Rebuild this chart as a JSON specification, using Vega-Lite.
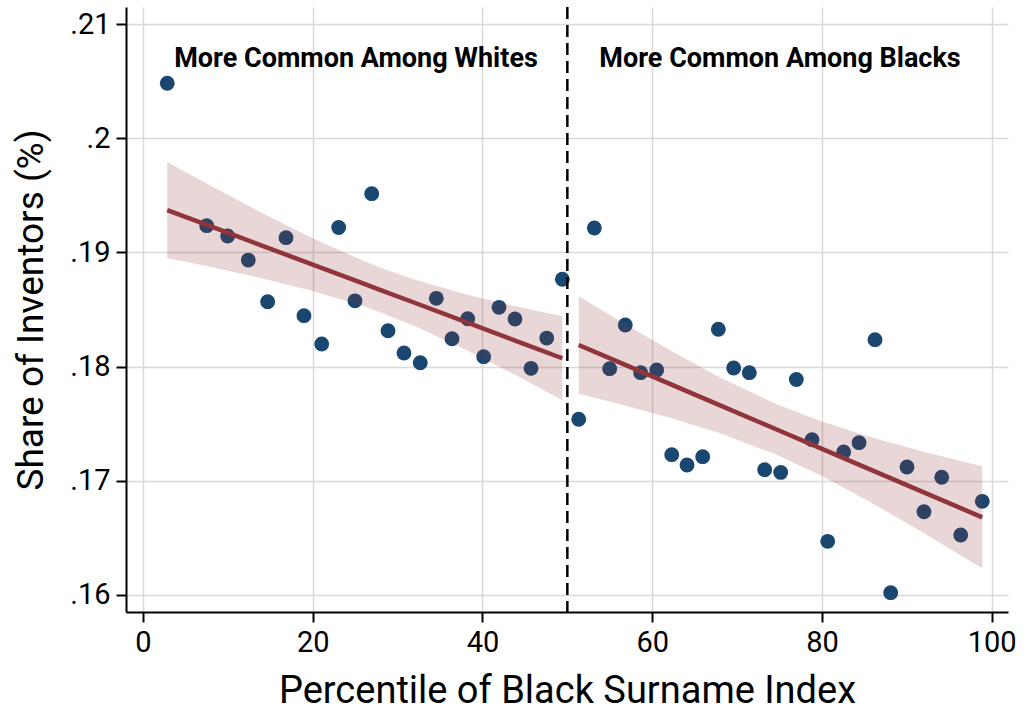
{
  "$schema": "https://vega.github.io/schema/vega-lite/v6.json",
  "width": 882,
  "height": 605,
  "autosize": {"type": "none"},
  "padding": {"left": 126, "top": 7, "right": 19, "bottom": 98},
  "background": "white",
  "config": {
    "font": "Roboto",
    "view": {"stroke": null},
    "axis": {
      "domainColor": "#000000",
      "domainWidth": 2,
      "tickColor": "#000000",
      "tickWidth": 2,
      "tickSize": 10,
      "gridColor": "#d9d9d9",
      "gridWidth": 1.5,
      "labelFont": "Roboto",
      "labelFontSize": 29,
      "labelColor": "#000000",
      "labelPadding": 6,
      "titleFont": "Roboto",
      "titleFontWeight": "normal",
      "titleColor": "#000000"
    }
  },
  "datasets": {
    "pts": [
      {"x": 2.86, "y": 0.20481}, {"x": 7.51, "y": 0.19234}, {"x": 9.98, "y": 0.19144}, {"x": 12.41, "y": 0.18933},
      {"x": 14.69, "y": 0.18568}, {"x": 16.85, "y": 0.19129}, {"x": 18.97, "y": 0.18446}, {"x": 21.06, "y": 0.18198},
      {"x": 23.06, "y": 0.19218}, {"x": 24.98, "y": 0.18576}, {"x": 26.95, "y": 0.19514}, {"x": 28.87, "y": 0.18314},
      {"x": 30.75, "y": 0.18119}, {"x": 32.67, "y": 0.18034}, {"x": 34.56, "y": 0.18598}, {"x": 36.41, "y": 0.18244},
      {"x": 38.26, "y": 0.18419}, {"x": 40.14, "y": 0.18087}, {"x": 41.95, "y": 0.18519}, {"x": 43.83, "y": 0.18417},
      {"x": 45.72, "y": 0.17985}, {"x": 47.57, "y": 0.1825}, {"x": 49.41, "y": 0.18765}, {"x": 51.34, "y": 0.17539},
      {"x": 53.18, "y": 0.19214}, {"x": 54.99, "y": 0.17982}, {"x": 56.83, "y": 0.18364}, {"x": 58.64, "y": 0.17947},
      {"x": 60.53, "y": 0.1797}, {"x": 62.3, "y": 0.17229}, {"x": 64.1, "y": 0.17138}, {"x": 65.95, "y": 0.17211},
      {"x": 67.79, "y": 0.18327}, {"x": 69.6, "y": 0.17988}, {"x": 71.44, "y": 0.17947}, {"x": 73.25, "y": 0.17097},
      {"x": 75.14, "y": 0.17073}, {"x": 76.98, "y": 0.17887}, {"x": 78.83, "y": 0.1736}, {"x": 80.68, "y": 0.1647},
      {"x": 82.56, "y": 0.17252}, {"x": 84.37, "y": 0.17334}, {"x": 86.25, "y": 0.18236}, {"x": 88.1, "y": 0.1602},
      {"x": 90.02, "y": 0.17121}, {"x": 92.02, "y": 0.16729}, {"x": 94.11, "y": 0.17031}, {"x": 96.35, "y": 0.16525},
      {"x": 98.89, "y": 0.1682}
    ],
    "fit": [
      {"g": "W", "x": 2.86, "fit": 0.19371, "lo": 0.18951, "hi": 0.19791},
      {"g": "W", "x": 8, "fit": 0.19228, "lo": 0.18873, "hi": 0.19583},
      {"g": "W", "x": 14, "fit": 0.1906, "lo": 0.18774, "hi": 0.19346},
      {"g": "W", "x": 20, "fit": 0.18893, "lo": 0.18663, "hi": 0.19123},
      {"g": "W", "x": 26, "fit": 0.18726, "lo": 0.18528, "hi": 0.18924},
      {"g": "W", "x": 28.24, "fit": 0.18663, "lo": 0.18468, "hi": 0.18858},
      {"g": "W", "x": 32, "fit": 0.18559, "lo": 0.18356, "hi": 0.18762},
      {"g": "W", "x": 38, "fit": 0.18391, "lo": 0.18149, "hi": 0.18633},
      {"g": "W", "x": 44, "fit": 0.18224, "lo": 0.17922, "hi": 0.18526},
      {"g": "W", "x": 49.41, "fit": 0.18073, "lo": 0.17705, "hi": 0.18441},
      {"g": "B", "x": 51.34, "fit": 0.18189, "lo": 0.17762, "hi": 0.18616},
      {"g": "B", "x": 56, "fit": 0.18041, "lo": 0.17675, "hi": 0.18407},
      {"g": "B", "x": 62, "fit": 0.17851, "lo": 0.17555, "hi": 0.18147},
      {"g": "B", "x": 68, "fit": 0.1766, "lo": 0.17416, "hi": 0.17904},
      {"g": "B", "x": 74.39, "fit": 0.17458, "lo": 0.17236, "hi": 0.1768},
      {"g": "B", "x": 80, "fit": 0.1728, "lo": 0.17041, "hi": 0.17519},
      {"g": "B", "x": 86, "fit": 0.17089, "lo": 0.16801, "hi": 0.17377},
      {"g": "B", "x": 92, "fit": 0.16899, "lo": 0.16543, "hi": 0.17255},
      {"g": "B", "x": 98.89, "fit": 0.1668, "lo": 0.16233, "hi": 0.17127}
    ],
    "cut": [{"x": 50}],
    "notes": [
      {"x": 25.1, "y": 0.20623, "label": "More Common Among Whites"},
      {"x": 75.06, "y": 0.20623, "label": "More Common Among Blacks"}
    ]
  },
  "layer": [
    {
      "data": {"name": "pts"},
      "mark": {"type": "point", "filled": true, "opacity": 1, "size": 220, "color": "#1a476f", "strokeWidth": 0},
      "encoding": {
        "x": {
          "field": "x", "type": "quantitative",
          "scale": {"domain": [-2.0, 101.92], "nice": false, "zero": false},
          "axis": {"values": [0, 20, 40, 60, 80, 100], "title": "Percentile of Black Surname Index", "titleFontSize": 38, "titleBaseline": "alphabetic", "titleY": 90, "grid": true},
          "title": "Percentile of Black Surname Index"
        },
        "y": {
          "field": "y", "type": "quantitative",
          "scale": {"domain": [0.15851, 0.21149], "nice": false, "zero": false},
          "axis": {"values": [0.16, 0.17, 0.18, 0.19, 0.2, 0.21], "labelExpr": "substring(format(datum.value, '.2~f'), 1)", "title": "Share of Inventors (%)", "titleFontSize": 37, "titleBaseline": "alphabetic", "titleX": -84, "grid": true},
          "title": "Share of Inventors (%)"
        }
      }
    },
    {
      "data": {"name": "fit"},
      "mark": {"type": "area", "color": "#90353b", "opacity": 0.2},
      "encoding": {
        "x": {"field": "x", "type": "quantitative", "title": "Percentile of Black Surname Index"},
        "y": {"field": "lo", "type": "quantitative", "title": "Share of Inventors (%)"},
        "y2": {"field": "hi"},
        "detail": {"field": "g"}
      }
    },
    {
      "data": {"name": "fit"},
      "mark": {"type": "line", "color": "#90353b", "strokeWidth": 4.5},
      "encoding": {
        "x": {"field": "x", "type": "quantitative", "title": "Percentile of Black Surname Index"},
        "y": {"field": "fit", "type": "quantitative", "title": "Share of Inventors (%)"},
        "detail": {"field": "g"}
      }
    },
    {
      "data": {"name": "cut"},
      "mark": {"type": "rule", "color": "#000000", "strokeWidth": 2.5, "strokeDash": [12, 6]},
      "encoding": {
        "x": {"field": "x", "type": "quantitative", "title": "Percentile of Black Surname Index"}
      }
    },
    {
      "data": {"name": "notes"},
      "mark": {"type": "text", "font": "Roboto", "fontWeight": "bold", "fontSize": 27, "color": "#000000", "align": "center", "baseline": "alphabetic"},
      "encoding": {
        "x": {"field": "x", "type": "quantitative", "title": "Percentile of Black Surname Index"},
        "y": {"field": "y", "type": "quantitative", "title": "Share of Inventors (%)"},
        "text": {"field": "label"}
      }
    }
  ]
}
